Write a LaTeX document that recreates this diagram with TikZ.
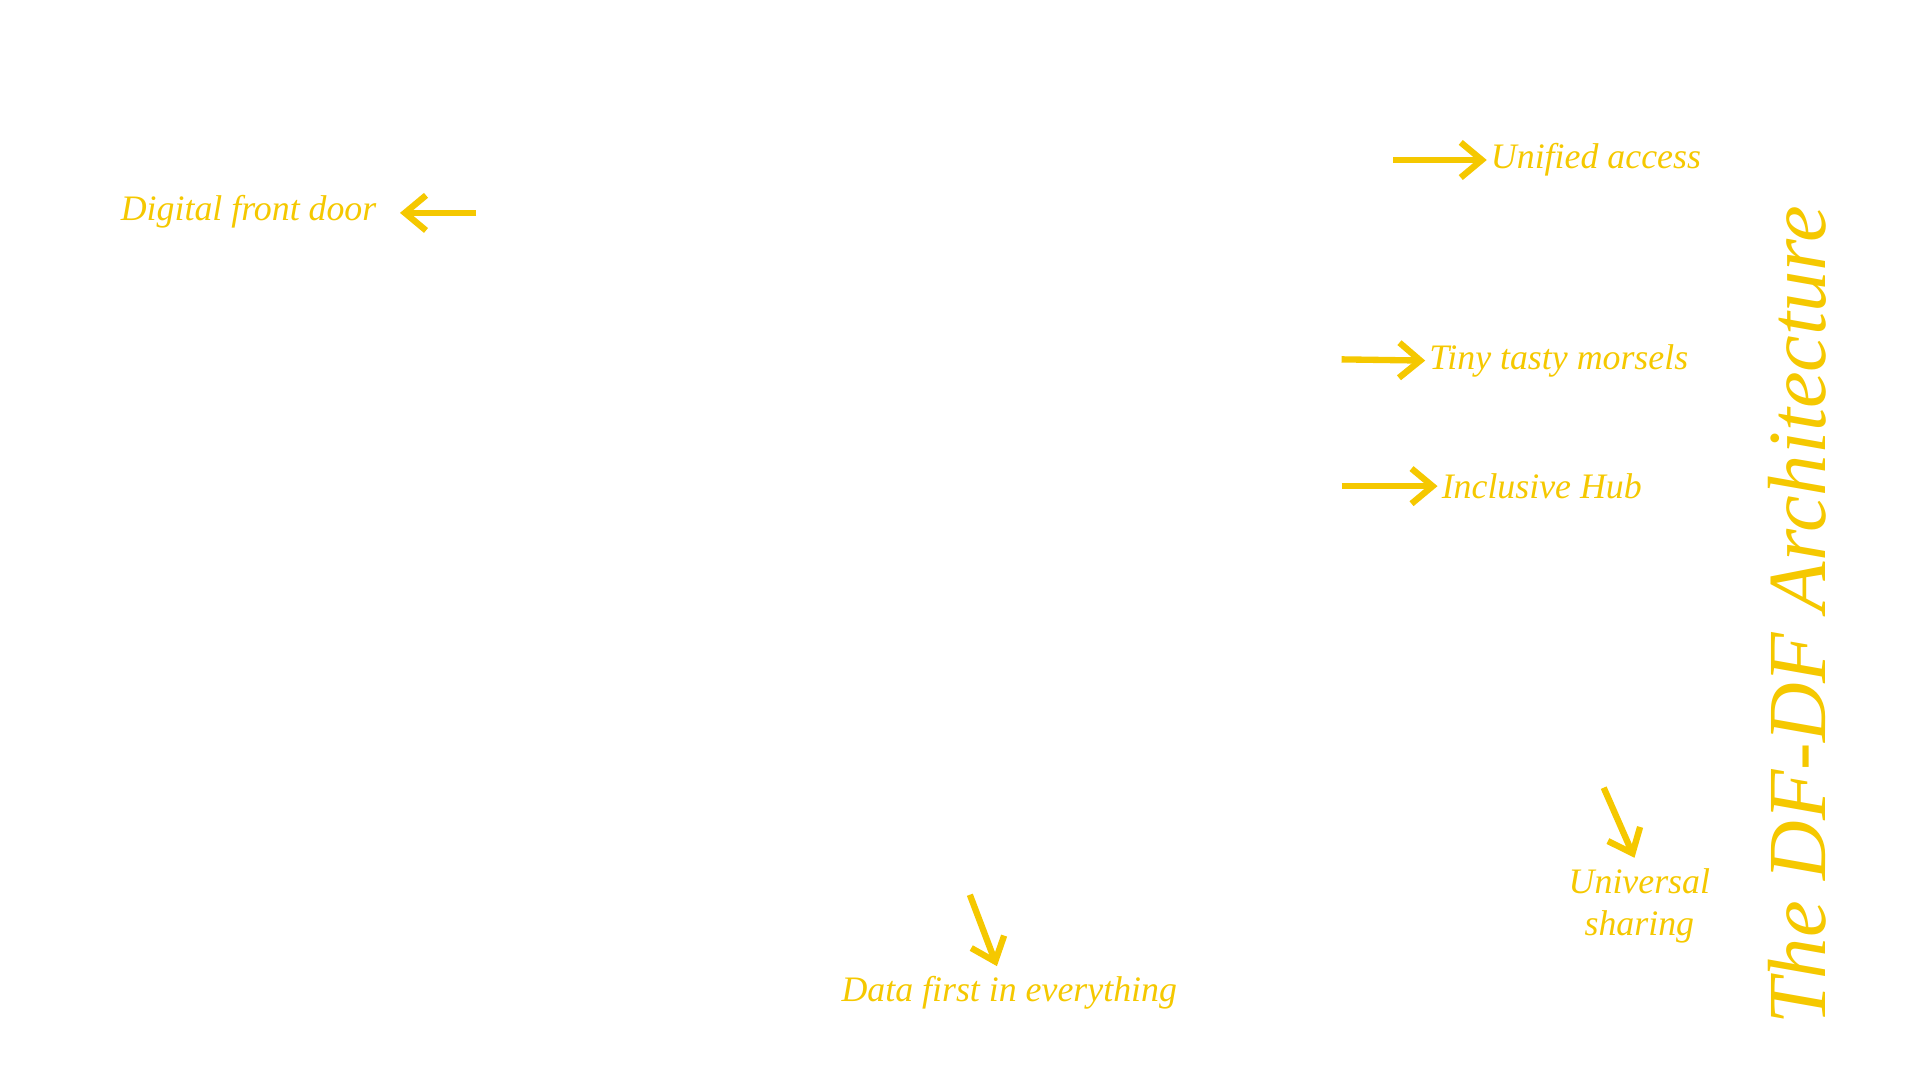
\documentclass[tikz,border=0pt]{standalone}
\usepackage{fontspec}
\setmainfont{Liberation Serif}
\usetikzlibrary{arrows.meta}
\definecolor{ylw}{HTML}{F5C800}
\begin{document}
\begin{tikzpicture}[x=0.01231cm,y=-0.01231cm,
  lbl/.style={text=ylw,font=\itshape\fontsize{10.2}{12}\selectfont,inner sep=1pt},
  arr/.style={draw=ylw,line width=1.8pt,-{Straight Barb[length=6pt,width=10pt]}}]
\useasboundingbox (0,0) rectangle (1560,878);
\node[lbl] (dfd) at (202,172) {Digital front door};
\coordinate (dfdS) at (387,173);
\draw[arr] (dfdS) -- (325,173);
\node[lbl,anchor=west] (ua) at (1208,130) {Unified access};
\coordinate (uaS) at (1132,130);
\draw[arr] (uaS) -- (ua.west);
\node[lbl,anchor=west] (ttm) at (1158,293) {Tiny tasty morsels};
\coordinate (ttmS) at (1090,292);
\draw[arr] (ttmS) -- (ttm.west);
\node[lbl,anchor=west] (ih) at (1168,395) {Inclusive Hub};
\coordinate (ihS) at (1090,395);
\draw[arr] (ihS) -- (ih.west);
\node[lbl,align=center,anchor=north] (us) at (1332,702) {Universal\\sharing};
\coordinate (usS) at (1303,640);
\draw[arr] (usS) -- (1328,697);
\node[lbl,anchor=north] (dfe) at (820,790) {Data first in everything};
\coordinate (dfeS) at (788,727);
\draw[arr] (dfeS) -- (810,785);
\node[text=ylw,font=\itshape\fontsize{23.5}{26}\selectfont,rotate=90] (title) at (1460,500) {The DF-DF Architecture};
\end{tikzpicture}
\end{document}
